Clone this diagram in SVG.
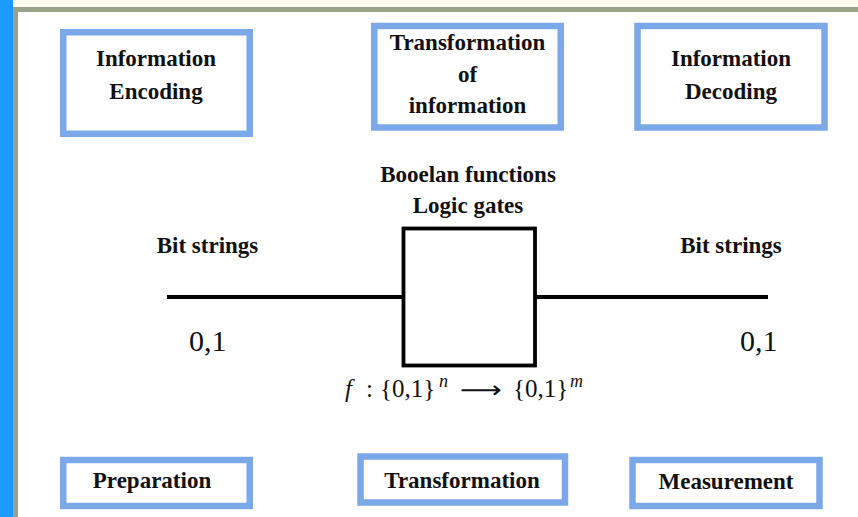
<svg xmlns="http://www.w3.org/2000/svg" width="858" height="517" viewBox="0 0 858 517">
  <style>
    .frame { fill: none; stroke: #7ba8e8; stroke-width: 6.5; }
    .lbl { font-family: "Liberation Serif", "Times New Roman", serif; font-weight: bold; font-size: 23px; fill: #111; text-anchor: middle; }
    .num { font-family: "Liberation Serif", "Times New Roman", serif; font-size: 30px; fill: #111; }
    .math { font-family: "Liberation Serif", "Times New Roman", serif; font-size: 25px; fill: #111; }
    .sup { font-family: "Liberation Serif", "Times New Roman", serif; font-style: italic; font-size: 18px; fill: #111; }
    .wire { stroke: #000; stroke-width: 4; fill: none; }
  </style>

  <!-- page background and slide trim -->
  <rect x="0" y="0" width="858" height="517" fill="#ffffff"/>
  <rect x="13" y="0" width="845" height="7" fill="#fffdf0"/>
  <rect x="13" y="7" width="845" height="5" fill="#9aa28c"/>
  <rect x="13" y="7" width="5" height="510" fill="#9aa28c"/>
  <rect x="0" y="0" width="13" height="517" fill="#1a9cff"/>

  <!-- top row -->
  <g id="encoding">
    <rect class="frame" x="63.25" y="32.25" width="186.5" height="101.5"/>
    <text class="lbl" x="156" y="66">Information</text>
    <text class="lbl" x="156" y="99">Encoding</text>
  </g>
  <g id="transformation-of-information">
    <rect class="frame" x="374.25" y="26" width="186.5" height="101.5"/>
    <text class="lbl" x="467.5" y="50">Transformation</text>
    <text class="lbl" x="467.5" y="82">of</text>
    <text class="lbl" x="467.5" y="113">information</text>
  </g>
  <g id="decoding">
    <rect class="frame" x="637.5" y="26" width="187" height="101.5"/>
    <text class="lbl" x="731" y="66">Information</text>
    <text class="lbl" x="731" y="99">Decoding</text>
  </g>

  <!-- circuit: input wire, gate, output wire -->
  <g id="connectors">
    <line class="wire" x1="167" y1="297" x2="403.5" y2="297"/>
    <line class="wire" x1="535" y1="297" x2="768" y2="297"/>
  </g>

  <g id="input">
    <text class="lbl" x="207.5" y="253">Bit strings</text>
    <text class="num" x="189" y="351">0,1</text>
  </g>

  <g id="gate">
    <text class="lbl" x="468" y="182">Booelan functions</text>
    <text class="lbl" x="468" y="213">Logic gates</text>
    <rect x="403.5" y="228.5" width="131.5" height="137" fill="none" stroke="#000" stroke-width="3.8"/>
    <text class="math" x="345" y="397" font-style="italic" font-size="27">f</text>
    <text class="math" x="366" y="397">:</text>
    <text class="math" x="380" y="397">{0,1}</text>
    <text class="sup" x="439" y="387">n</text>
    <text x="460" y="398" font-family="DejaVu Sans, sans-serif" font-size="24" fill="#111" textLength="42" lengthAdjust="spacingAndGlyphs">⟶</text>
    <text class="math" x="513" y="397">{0,1}</text>
    <text class="sup" x="570" y="387">m</text>
  </g>

  <g id="output">
    <text class="lbl" x="731" y="253">Bit strings</text>
    <text class="num" x="740" y="351">0,1</text>
  </g>

  <!-- bottom row -->
  <g id="preparation">
    <rect class="frame" x="63.25" y="460" width="186.5" height="46"/>
    <text class="lbl" x="152" y="488">Preparation</text>
  </g>
  <g id="transformation">
    <rect class="frame" x="360.5" y="456.5" width="204.5" height="46"/>
    <text class="lbl" x="462" y="488">Transformation</text>
  </g>
  <g id="measurement">
    <rect class="frame" x="632.5" y="460" width="187" height="46"/>
    <text class="lbl" x="726" y="489">Measurement</text>
  </g>
</svg>
